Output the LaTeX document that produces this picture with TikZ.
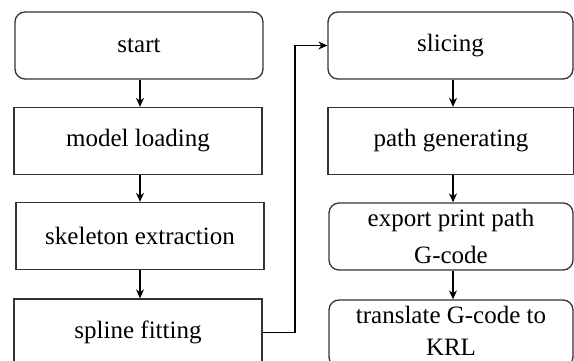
\documentclass[tikz,border=0pt]{standalone}
\usepackage{fontspec}
\setmainfont{Liberation Serif}
\usetikzlibrary{arrows.meta,positioning}
\begin{document}
\begin{tikzpicture}[x=1pt,y=-1pt,
  box/.style={draw=black!80,line width=1.3pt,minimum width=#1,minimum height=67pt,
    inner sep=0pt,align=center,font=\fontsize{25}{37}\selectfont},
  box/.default=248pt,
  rbox/.style={box=#1,rounded corners=10pt},
  rbox/.default=248pt,
  flow/.style={draw=black,line width=1.1pt,-{Stealth[length=9pt,width=8pt]}}]
\useasboundingbox (0,0) rectangle (574,361);
% left column
\node[rbox] (start) at (139,45.5) {start};
\node[box] (load) at (138,141) {model loading};
\node[box] (skel) at (140,236) {skeleton extraction};
\node[box] (spline) at (138,332.5) {spline fitting};
% right column
\node[rbox=245pt] (slice) at (450.5,45.5) {slicing};
\node[box=246pt] (gen) at (451,141) {path generating};
\node[rbox=244pt] (export) at (451,236.5) {export print path\\G-code};
\node[rbox=244pt] (krl) at (451,333.5) {};
\node[font=\fontsize{25}{32}\selectfont,align=center,inner sep=0pt] (krltext) at (451,330.5) {translate G-code to\\KRL};
% connectors
\draw[flow] (start.south -| 140,0) -- (load.north -| 140,0);
\draw[flow] (load.south -| 140,0) -- (skel.north -| 140,0);
\draw[flow] (skel.south -| 140,0) -- (spline.north -| 140,0);
\coordinate (turn) at (295,0);
\draw[flow] (spline.east) -- (spline.east -| turn) |- (slice.west);
\draw[flow] (slice.south -| 453,0) -- (gen.north -| 453,0);
\draw[flow] (gen.south -| 453,0) -- (export.north -| 453,0);
\draw[flow] (export.south -| 453,0) -- (krl.north -| 453,0);
\end{tikzpicture}
\end{document}
